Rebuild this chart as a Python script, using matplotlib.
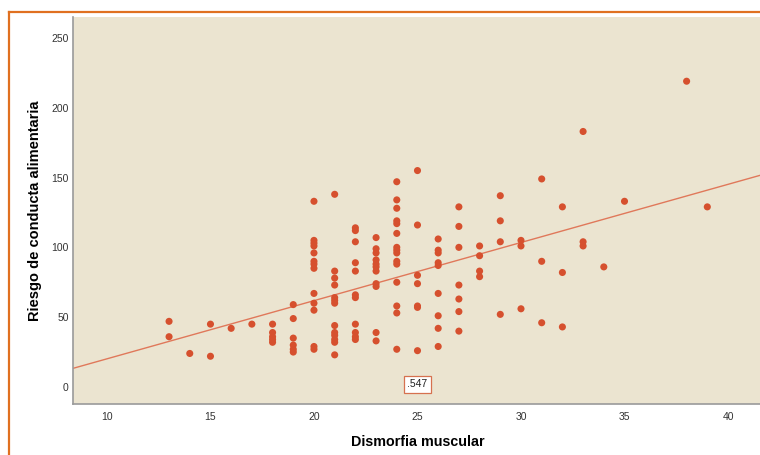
import numpy as np
import matplotlib.pyplot as plt
from matplotlib.lines import Line2D

plt.rcParams['font.family'] = ['Liberation Sans', 'DejaVu Sans']

# values, one list per x value
x_vals = [13, 14, 15, 16, 17, 18, 19, 20, 21, 22, 23, 24, 25, 26, 27, 28,
          29, 30, 31, 32, 33, 34, 35, 38, 39]
y_cols = [
    [47, 36],
    [24],
    [45, 22],
    [42],
    [45],
    [45, 39, 36, 34, 32],
    [59, 49, 35, 30, 27, 25],
    [133, 105, 103, 101, 96, 90, 88, 85, 67, 60, 55, 29, 27],
    [138, 83, 78, 73, 64, 62, 60, 44, 39, 37, 34, 32, 23],
    [114, 112, 104, 89, 83, 66, 64, 45, 39, 36, 34],
    [107, 99, 96, 91, 88, 86, 83, 74, 72, 39, 33],
    [147, 134, 128, 119, 117, 110, 100, 98, 96, 90, 88, 75, 58, 53, 27],
    [155, 116, 80, 74, 58, 57, 26],
    [106, 98, 96, 89, 87, 67, 51, 42, 29],
    [129, 115, 100, 73, 63, 54, 40],
    [101, 94, 83, 79],
    [137, 119, 104, 52],
    [105, 101, 56],
    [149, 90, 46],
    [129, 82, 43],
    [183, 104, 101],
    [86],
    [133],
    [219],
    [129],
]

# fit line as drawn in the picture
fit_intercept = -21.5
fit_slope = 4.166
r2_label = '.547'
r2_pos = (25.0, 2)

xticks = [10, 15, 20, 25, 30, 35, 40]
yticks = [0, 50, 100, 150, 200, 250]

dismorfia = np.concatenate([[x] * len(c) for x, c in zip(x_vals, y_cols)])
riesgo = np.concatenate(y_cols)

W, H = 760, 455
fig = plt.figure(figsize=(W / 100, H / 100), dpi=100)
ax = fig.add_axes([73 / W, (H - 404) / H, (763 - 73) / W, (404 - 17) / H])
ax.set_facecolor('#ebe4d0')

xmin, xmax = 8.36, 41.69
ax.set_xlim(xmin, xmax)
ax.set_ylim(-12.2, 265)

xx = np.array([xmin, xmax])
ax.plot(xx, fit_intercept + fit_slope * xx, color='#e0785a', lw=1.0, zorder=2)
ax.scatter(dismorfia, riesgo, s=26, color='#d6502e', edgecolors='none', zorder=3)

ax.text(r2_pos[0], r2_pos[1], r2_label, ha='center', va='center', fontsize=7.5,
        color='#222222',
        bbox=dict(boxstyle='square,pad=0.35', fc='white', ec='#d6714f', lw=0.9))

ax.set_xticks(xticks)
ax.set_yticks(yticks)
ax.tick_params(length=0, labelsize=7.5, labelcolor='#333333')
ax.tick_params(axis='x', pad=6)
ax.tick_params(axis='y', pad=3)

for s in ['top', 'right']:
    ax.spines[s].set_visible(False)
for s in ['left', 'bottom']:
    ax.spines[s].set_color('#9a9a9a')
    ax.spines[s].set_linewidth(1.2)

ax.set_xlabel('Dismorfia muscular', fontsize=10.3, fontweight='bold', labelpad=9)
ax.set_ylabel('Riesgo de conducta alimentaria', fontsize=10.5, fontweight='bold', labelpad=7)

# orange frame around the chart
bx, by = 9 / W, 1 - 12 / H
fig.add_artist(Line2D([bx, bx], [0, by], color='#e07020', lw=1.6, transform=fig.transFigure))
fig.add_artist(Line2D([bx, 1], [by, by], color='#e07020', lw=1.6, transform=fig.transFigure))

fig.savefig('out.png', dpi=100)
